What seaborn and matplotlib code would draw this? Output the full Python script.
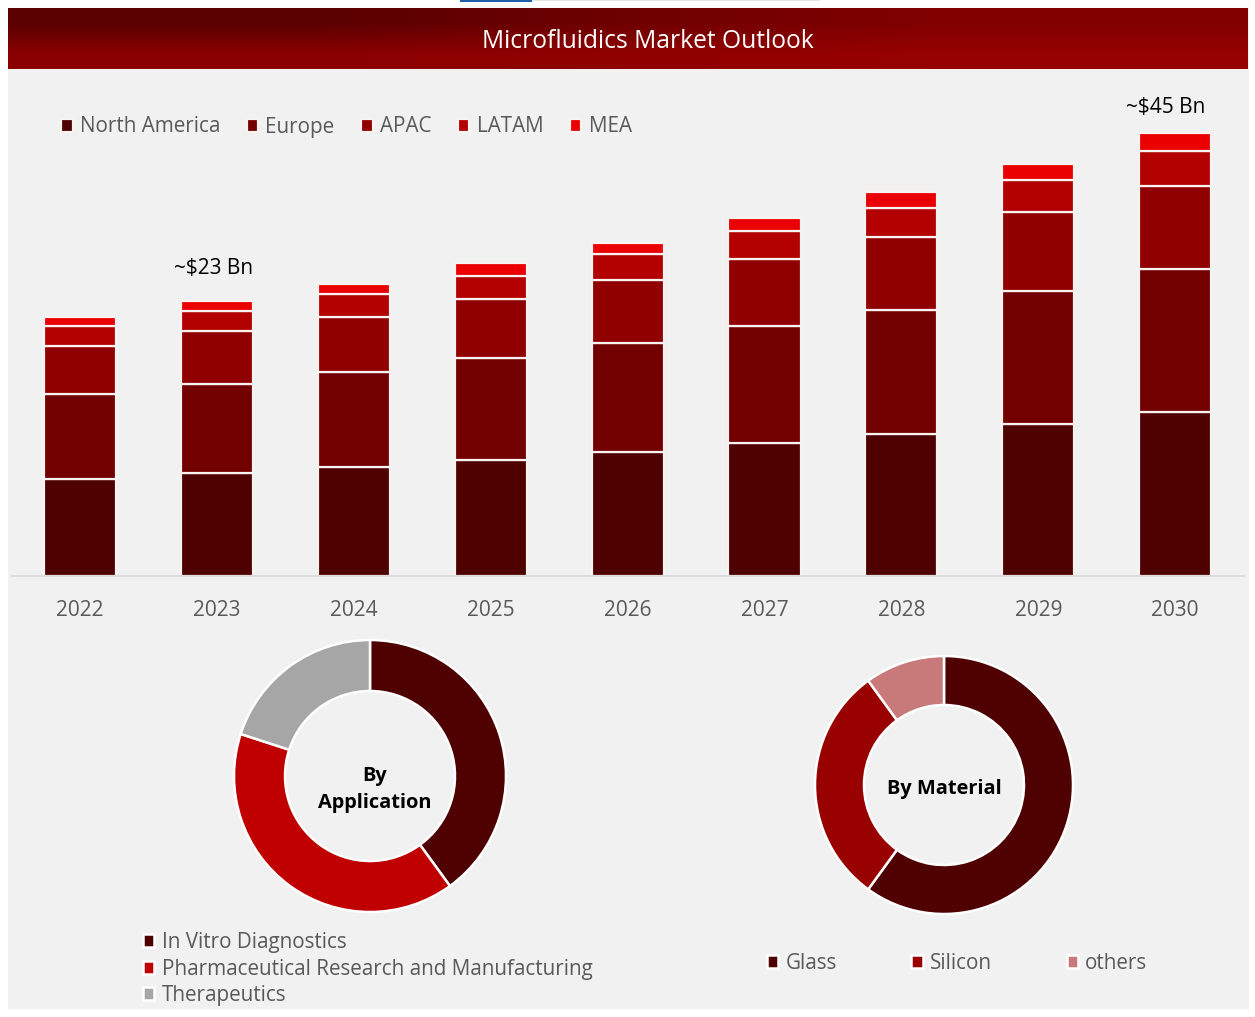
import matplotlib
matplotlib.use('Agg')
import matplotlib.pyplot as plt
from matplotlib.colors import LinearSegmentedColormap
from matplotlib.patches import Rectangle
import seaborn as sns
import numpy as np

# Data
years = ['2022', '2023', '2024', '2025', '2026', '2027', '2028', '2029', '2030']
north_america = [9.8, 10.4, 11.0, 11.8, 12.6, 13.5, 14.4, 15.4, 16.6]
europe = [8.6, 9.1, 9.7, 10.3, 11.0, 11.8, 12.6, 13.5, 14.5]
apac = [4.9, 5.3, 5.6, 6.0, 6.4, 6.8, 7.4, 8.0, 8.4]
latam = [2.0, 2.1, 2.3, 2.3, 2.6, 2.9, 2.9, 3.2, 3.6]
mea = [0.9, 1.0, 1.0, 1.3, 1.2, 1.3, 1.6, 1.7, 1.8]
regions = ['North America', 'Europe', 'APAC', 'LATAM', 'MEA']
region_colors = ['#4f0000', '#720000', '#900000', '#b30000', '#ea0000']

app_labels = ['In Vitro Diagnostics', 'Pharmaceutical Research and Manufacturing', 'Therapeutics']
app_shares = [40, 40, 20]
app_colors = ['#4f0000', '#c00000', '#a6a6a6']

mat_labels = ['Glass', 'Silicon', 'others']
mat_shares = [60, 30, 10]
mat_colors = ['#4f0000', '#990000', '#c87a7a']

W, H = 1255, 1017
BG = '#f1f1f1'
TXT = '#595959'

sns.set_theme(style='white')
plt.rcParams['font.family'] = ['Open Sans', 'DejaVu Sans']


def px_axes(x0, y0, x1, y1, **kw):
    # axes from pixel box, y counted from the top
    return fig.add_axes([x0 / W, 1 - y1 / H, (x1 - x0) / W, (y1 - y0) / H], **kw)


def px_text(x, y, s, **kw):
    fig.text(x / W, 1 - y / H, s, ha='center', va='center', **kw)


fig = plt.figure(figsize=(W / 100, H / 100), dpi=100, facecolor='white')
fig.patches.append(Rectangle((8 / W, 1 - 1008 / H), 1240 / W, 1000 / H, transform=fig.transFigure, color=BG, zorder=-5))
fig.patches.append(Rectangle((532 / W, 1 - 1 / H), 288 / W, 1 / H, transform=fig.transFigure, color='#e4e4e4', lw=0))
fig.patches.append(Rectangle((460 / W, 1 - 2 / H), 72 / W, 2 / H, transform=fig.transFigure, color='#1b5fa8', lw=0))

# Header band
head = px_axes(8, 8, 1248, 69)
head.axis('off')
cmap = LinearSegmentedColormap.from_list('head', ['#5a0000', '#960000'])
head.imshow([[0.0, 0.65], [0.8, 1.0]], cmap=cmap, vmin=0, vmax=1, aspect='auto', interpolation='bilinear')
px_text(648, 41, 'Microfluidics Market Outlook', color='white', fontsize=17.7)

# Stacked bars
scale = 444 / 45.0  # pixels per Bn
ax = px_axes(11.6, 76, 1243.6, 576)
ax.patch.set_alpha(0)
bottom = np.zeros(len(years))
for name, vals, col in zip(regions, [north_america, europe, apac, latam, mea], region_colors):
    sns.barplot(x=years, y=vals, bottom=bottom, color=col, saturation=1, width=0.527,
                edgecolor='#f8f2f0', linewidth=1.6, label=name, ax=ax)
    bottom = bottom + np.array(vals)
ax.set_xlim(-0.5, 8.5)
ax.set_ylim(0, 500 / scale)
ax.set_yticks([])
sns.despine(ax=ax, left=True)
ax.spines['bottom'].set_color('#d9d9d9')
ax.spines['bottom'].set_linewidth(1.2)
ax.tick_params(axis='x', length=0, pad=17, labelsize=15, labelcolor=TXT)
ax.legend(loc='upper left', bbox_to_anchor=(0.0402, 0.919), ncol=5, frameon=False, fontsize=14.9,
          labelcolor=TXT, handlelength=0.55, handleheight=0.6, handletextpad=0.35,
          columnspacing=1.29, borderpad=0, borderaxespad=0)
px_text(213.5, 269, '~$23 Bn', color='black', fontsize=15)
px_text(1165.5, 108, '~$45 Bn', color='black', fontsize=15)

# Donuts
r1 = 136
ax1 = px_axes(370 - r1, 776 - r1, 370 + r1, 776 + r1)
w1, _ = ax1.pie(app_shares, colors=app_colors, startangle=90, counterclock=False, radius=1,
                wedgeprops=dict(width=51 / r1, edgecolor='white', linewidth=1.8))
ax1.set_xlim(-1, 1)
ax1.set_ylim(-1, 1)
px_text(375, 789.5, 'By\nApplication', color='black', fontsize=14.4, fontweight='bold', linespacing=1.5)
fig.legend(w1, app_labels, loc='upper left', bbox_to_anchor=(143 / W, 1 - 932 / H), frameon=False,
           fontsize=14.9, labelcolor=TXT, handlelength=0.55, handleheight=0.6, handletextpad=0.35,
           labelspacing=0.27, borderpad=0, borderaxespad=0)

r2 = 129
ax2 = px_axes(944 - r2, 785 - r2, 944 + r2, 785 + r2)
w2, _ = ax2.pie(mat_shares, colors=mat_colors, startangle=90, counterclock=False, radius=1,
                wedgeprops=dict(width=49 / r2, edgecolor='white', linewidth=1.8))
ax2.set_xlim(-1, 1)
ax2.set_ylim(-1, 1)
px_text(944, 789, 'By Material', color='black', fontsize=14.4, fontweight='bold')
fig.legend(w2, mat_labels, loc='upper left', bbox_to_anchor=(767 / W, 1 - 953 / H), ncol=3, frameon=False,
           fontsize=14.9, labelcolor=TXT, handlelength=0.55, handleheight=0.6, handletextpad=0.35,
           columnspacing=3.6, borderpad=0, borderaxespad=0)

plt.savefig('out.png', dpi=100)
